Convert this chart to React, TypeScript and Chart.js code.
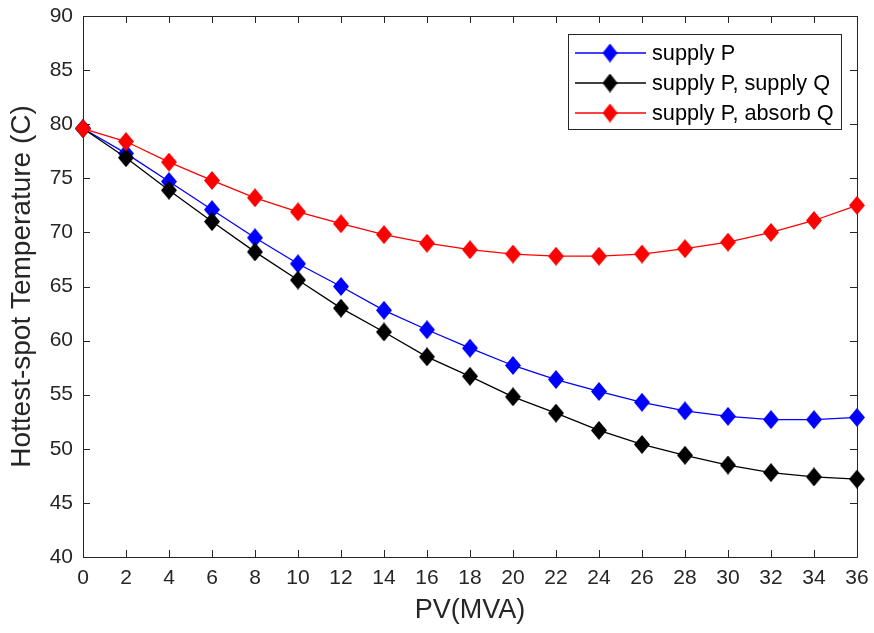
import React, { useEffect, useRef } from "react";
import { Chart, registerables } from "chart.js";

Chart.register(...registerables);

const pvValues = [0, 2, 4, 6, 8, 10, 12, 14, 16, 18, 20, 22, 24, 26, 28, 30, 32, 34, 36];
const supplyP = [79.6, 77.3, 74.7, 72.1, 69.5, 67.1, 65.0, 62.8, 61.0, 59.3, 57.7, 56.4, 55.3, 54.3, 53.5, 53.0, 52.7, 52.7, 52.9];
const supplyPSupplyQ = [79.6, 76.9, 73.9, 71.0, 68.2, 65.6, 63.0, 60.8, 58.5, 56.7, 54.8, 53.3, 51.7, 50.4, 49.4, 48.5, 47.8, 47.4, 47.2];
const supplyPAbsorbQ = [79.6, 78.4, 76.5, 74.8, 73.2, 71.9, 70.8, 69.8, 69.0, 68.4, 68.0, 67.8, 67.8, 68.0, 68.5, 69.1, 70.0, 71.1, 72.5];
const seriesNames = ["supply P", "supply P, supply Q", "supply P, absorb Q"];
const seriesColors = ["#0000ff", "#000000", "#ff0000"];
const xTitle = "PV(MVA)";
const yTitle = "Hottest-spot Temperature (C)";

const FONT = "'Liberation Sans', Arial, Helvetica, sans-serif";
const AXIS_COLOR = "#262626";

function makeDiamond(color: string, w: number, h: number): HTMLCanvasElement {
  const c = document.createElement("canvas");
  c.width = w;
  c.height = h;
  const g = c.getContext("2d")!;
  g.fillStyle = color;
  g.beginPath();
  g.moveTo(w / 2, 0);
  g.lineTo(w, h / 2);
  g.lineTo(w / 2, h);
  g.lineTo(0, h / 2);
  g.closePath();
  g.fill();
  return c;
}

const boxPlugin = {
  id: "matlabBox",
  beforeDatasetsDraw(chart: any) {
    const { ctx, chartArea, scales } = chart;
    const { left, right, top, bottom } = chartArea;
    const x = scales.x;
    const y = scales.y;
    const tl = 7;
    ctx.save();
    ctx.strokeStyle = AXIS_COLOR;
    ctx.lineWidth = 1;
    ctx.beginPath();
    ctx.rect(Math.round(left) + 0.5, Math.round(top) + 0.5, Math.round(right - left), Math.round(bottom - top));
    for (const t of x.ticks) {
      const px = Math.round(x.getPixelForValue(t.value)) + 0.5;
      ctx.moveTo(px, bottom);
      ctx.lineTo(px, bottom - tl);
      ctx.moveTo(px, top);
      ctx.lineTo(px, top + tl);
    }
    for (const t of y.ticks) {
      const py = Math.round(y.getPixelForValue(t.value)) + 0.5;
      ctx.moveTo(left, py);
      ctx.lineTo(left + tl, py);
      ctx.moveTo(right, py);
      ctx.lineTo(right - tl, py);
    }
    ctx.stroke();
    ctx.restore();
  },
  afterDraw(chart: any) {
    const { ctx } = chart;
    const bx = 568.5, by = 34.5, bw = 273, bh = 95;
    ctx.save();
    ctx.fillStyle = "#ffffff";
    ctx.fillRect(bx, by, bw, bh);
    ctx.strokeStyle = AXIS_COLOR;
    ctx.lineWidth = 1;
    ctx.strokeRect(bx, by, bw, bh);
    ctx.font = `21.7px ${FONT}`;
    ctx.textBaseline = "middle";
    ctx.textAlign = "left";
    seriesNames.forEach((name, i) => {
      const yy = 53 + i * 30;
      ctx.strokeStyle = seriesColors[i];
      ctx.lineWidth = 1.3;
      ctx.beginPath();
      ctx.moveTo(575, yy);
      ctx.lineTo(646, yy);
      ctx.stroke();
      const d = makeDiamond(seriesColors[i], 15, 19);
      ctx.drawImage(d, 610 - 7.5, yy - 9.5);
      ctx.fillStyle = "#000000";
      ctx.fillText(name, 652, yy + 1);
    });
    ctx.restore();
  },
};

export default function App() {
  const ref = useRef<HTMLCanvasElement | null>(null);
  useEffect(() => {
    document.body.style.margin = "0";
    const seriesValues = [supplyP, supplyPSupplyQ, supplyPAbsorbQ];
    const orders = [2, 1, 0];
    const datasets = seriesValues.map((vals, i) => ({
      label: seriesNames[i],
      data: pvValues.map((p, j) => ({ x: p, y: vals[j] })),
      borderColor: seriesColors[i],
      backgroundColor: seriesColors[i],
      borderWidth: 1.3,
      pointStyle: makeDiamond(seriesColors[i], 16, 19),
      pointRadius: 9,
      tension: 0,
      clip: false as any,
      order: orders[i],
    }));
    const chart = new Chart(ref.current!, {
      type: "line",
      data: { datasets },
      options: {
        animation: false,
        responsive: false,
        events: [],
        layout: { padding: { top: 16, right: 17, left: 0, bottom: 0 } },
        plugins: { legend: { display: false }, tooltip: { enabled: false } },
        scales: {
          x: {
            type: "linear",
            min: 0,
            max: 36,
            grid: { display: false, drawTicks: false },
            border: { display: false },
            ticks: {
              stepSize: 2,
              color: AXIS_COLOR,
              font: { family: FONT, size: 21 },
              padding: 9,
              maxRotation: 0,
              autoSkip: false,
            },
            title: {
              display: true,
              text: xTitle,
              color: AXIS_COLOR,
              font: { family: FONT, size: 27 },
              padding: { top: 0, bottom: 6 },
            },
            afterFit(scale: any) {
              scale.height = 76;
              scale.paddingLeft = 0;
              scale.paddingRight = 0;
            },
          },
          y: {
            min: 40,
            max: 90,
            grid: { display: false, drawTicks: false },
            border: { display: false },
            ticks: {
              stepSize: 5,
              color: AXIS_COLOR,
              font: { family: FONT, size: 21 },
              padding: 10,
            },
            title: {
              display: true,
              text: yTitle,
              color: AXIS_COLOR,
              font: { family: FONT, size: 28 },
              padding: { top: 5, bottom: 0 },
            },
            afterFit(scale: any) {
              scale.width = 83;
              scale.paddingTop = 0;
              scale.paddingBottom = 0;
            },
          },
        },
      },
      plugins: [boxPlugin],
    });
    return () => chart.destroy();
  }, []);
  return (
    <div style={{ position: "absolute", left: 0, top: 0, width: 874, height: 633, background: "#fff" }}>
      <canvas ref={ref} width={874} height={633} />
    </div>
  );
}
